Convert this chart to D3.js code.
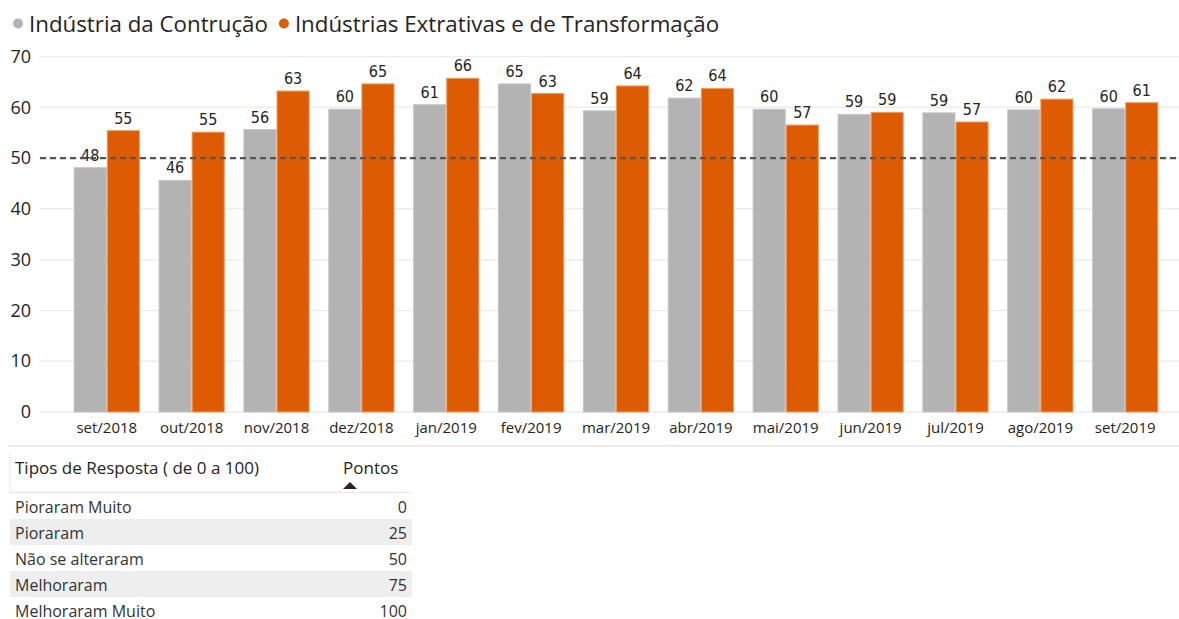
<!DOCTYPE html>
<html>
<head>
<meta charset="utf-8">
<script src="https://cdn.jsdelivr.net/npm/d3@7"></script>
<style>
  body { margin: 0; background: #fff; }
  svg { display: block; font-family: "Open Sans", "Noto Sans", sans-serif; }
</style>
</head>
<body>
<svg id="chart" width="1179" height="619"></svg>
<script>
// chart data
const months = ['set/2018', 'out/2018', 'nov/2018', 'dez/2018', 'jan/2019', 'fev/2019', 'mar/2019',
  'abr/2019', 'mai/2019', 'jun/2019', 'jul/2019', 'ago/2019', 'set/2019'];
const seriesNames = ['Indústria da Contrução', 'Indústrias Extrativas e de Transformação'];
const construcao = [48.1, 45.6, 55.6, 59.6, 60.5, 64.6, 59.3, 61.8, 59.6, 58.6, 58.9, 59.5, 59.7];
const extrativas = [55.4, 55.1, 63.2, 64.6, 65.7, 62.7, 64.2, 63.7, 56.5, 59.0, 57.1, 61.6, 60.9];
const yTicks = [0, 10, 20, 30, 40, 50, 60, 70];
const refLine = 50;

// table data
const tableHeader = ['Tipos de Resposta ( de 0 a 100)', 'Pontos'];
const respTypes = ['Pioraram Muito', 'Pioraram', 'Não se alteraram', 'Melhoraram', 'Melhoraram Muito'];
const respPoints = [0, 25, 50, 75, 100];

const colors = ['#B3B3B3', '#DD5B02'];
const strokes = ['#C4C4C4', '#F09A5E'];

const svg = d3.select('#chart');

const x = d3.scaleBand().domain(months).range([55, 1177]).paddingInner(0.22).paddingOuter(0.22);
const x1 = d3.scaleBand().domain([0, 1]).range([0, x.bandwidth()]);
const y = d3.scaleLinear().domain([0, 70]).range([412, 56.5]);

// legend
const legend = svg.append('g').attr('class', 'legend');
let lx = 18;
seriesNames.forEach((name, i) => {
  legend.append('circle').attr('cx', lx).attr('cy', 23.5).attr('r', 5).attr('fill', colors[i]);
  const t = legend.append('text')
    .attr('x', lx + 11).attr('y', 32)
    .attr('font-size', 22.3).attr('fill', '#252423')
    .text(name);
  lx += 11 + t.node().getComputedTextLength() + 16;
});

// gridlines
svg.append('g')
  .selectAll('line')
  .data(yTicks)
  .enter().append('line')
  .attr('x1', 40).attr('x2', 1179)
  .attr('y1', d => y(d)).attr('y2', d => y(d))
  .attr('stroke', '#ededed').attr('stroke-width', 1.5);

// y axis
const yAxis = d3.axisLeft(y).tickValues(yTicks).tickSize(0).tickPadding(0);
svg.append('g')
  .attr('transform', 'translate(31,0)')
  .call(yAxis)
  .call(g => g.select('.domain').remove())
  .selectAll('text')
  .attr('font-size', 18).attr('fill', '#252423')
  .attr('font-family', '"Open Sans", sans-serif');

// bars
const series = [construcao, extrativas];
const groups = svg.append('g').selectAll('g')
  .data(months)
  .enter().append('g')
  .attr('transform', d => 'translate(' + x(d) + ',0)');

series.forEach((vals, s) => {
  groups.append('rect')
    .attr('x', x1(s) + 0.5)
    .attr('y', (d, i) => y(vals[i]))
    .attr('width', x1.bandwidth() - 1)
    .attr('height', (d, i) => y(0) - y(vals[i]))
    .attr('fill', colors[s])
    .attr('stroke', strokes[s]).attr('stroke-width', 1);
});

// reference line
svg.append('line')
  .attr('x1', 40).attr('x2', 1179)
  .attr('y1', y(refLine)).attr('y2', y(refLine))
  .attr('stroke', '#555').attr('stroke-width', 2.2)
  .attr('stroke-dasharray', '6,4');

// data labels
series.forEach((vals, s) => {
  groups.append('text')
    .attr('x', x1(s) + x1.bandwidth() / 2)
    .attr('y', (d, i) => y(vals[i]) - 7)
    .attr('text-anchor', 'middle')
    .attr('font-size', 16).attr('fill', '#252423')
    .attr('font-family', '"DejaVu Sans Condensed", "Roboto", sans-serif')
    .text((d, i) => Math.round(vals[i]));
});

// x axis
const xAxis = d3.axisBottom(x).tickSize(0).tickPadding(10);
svg.append('g')
  .attr('transform', 'translate(0,' + y(0) + ')')
  .call(xAxis)
  .call(g => g.select('.domain').remove())
  .selectAll('text')
  .attr('font-size', 15).attr('fill', '#252423')
  .attr('font-family', '"Open Sans", sans-serif');

// separator
svg.append('line')
  .attr('x1', 8).attr('x2', 1179).attr('y1', 446).attr('y2', 446)
  .attr('stroke', '#ececec').attr('stroke-width', 2);

// table
const table = svg.append('g');
const tblLeft = 10, tblRight = 412, rowH = 26, headBottom = 493;
table.append('line')
  .attr('x1', tblLeft).attr('x2', tblLeft).attr('y1', 452).attr('y2', headBottom)
  .attr('stroke', '#fbe3d3').attr('stroke-width', 1);
table.append('line')
  .attr('x1', tblLeft).attr('x2', tblRight).attr('y1', headBottom).attr('y2', headBottom)
  .attr('stroke', '#fbd9c3').attr('stroke-width', 1.5);
table.append('text')
  .attr('x', 15).attr('y', 474).attr('font-size', 17).attr('fill', '#252423')
  .text(tableHeader[0]);
table.append('text')
  .attr('x', 343).attr('y', 474).attr('font-size', 17).attr('fill', '#252423')
  .text(tableHeader[1]);
table.append('path')
  .attr('d', 'M343,489 L350,482 L357,489 Z')
  .attr('fill', '#252423');

const rows = table.selectAll('g.row')
  .data(respTypes)
  .enter().append('g')
  .attr('class', 'row')
  .attr('transform', (d, i) => 'translate(0,' + (headBottom + i * rowH) + ')');
rows.append('rect')
  .attr('x', tblLeft).attr('width', tblRight - tblLeft)
  .attr('height', rowH)
  .attr('fill', (d, i) => i % 2 ? '#eeeeee' : '#ffffff');
rows.append('text')
  .attr('x', 15).attr('y', 19.5)
  .attr('font-size', 16).attr('fill', '#333')
  .text(d => d);
rows.append('text')
  .attr('x', 407).attr('y', 19.5)
  .attr('text-anchor', 'end')
  .attr('font-size', 16).attr('fill', '#333')
  .text((d, i) => respPoints[i]);
</script>
</body>
</html>
